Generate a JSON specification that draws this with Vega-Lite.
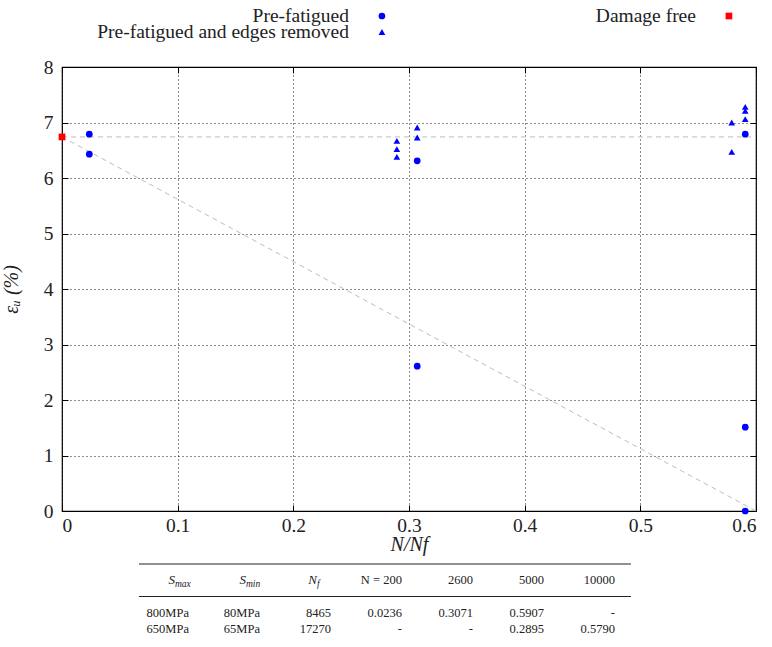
{
  "$schema": "https://vega.github.io/schema/vega-lite/v6.json",
  "background": "white",
  "padding": {"left": 0, "top": 6, "right": 5, "bottom": 0},
  "spacing": 35,
  "bounds": "flush",
  "config": {
    "font": "'Liberation Serif', 'Times New Roman', 'DejaVu Serif', serif",
    "view": {"stroke": null},
    "text": {"font": "'Liberation Serif', 'Times New Roman', 'DejaVu Serif', serif"},
    "axis": {"labelFont": "'Liberation Serif', 'Times New Roman', 'DejaVu Serif', serif", "titleFont": "'Liberation Serif', 'Times New Roman', 'DejaVu Serif', serif", "labelColor": "#222", "titleColor": "#222", "titleFontWeight": "normal", "labelFontSize": 19.5, "titleFontSize": 20}
  },
  "datasets": {
    "legend": [
      {"label": "Pre-fatigued", "series": "Pre-fatigued", "col": "left", "row": "r1"},
      {"label": "Pre-fatigued and edges removed", "series": "Pre-fatigued and edges removed", "col": "left", "row": "r2"},
      {"label": "Damage free", "series": "Damage free", "col": "right", "row": "r1"}
    ],
    "lines": [
      {"line": "h", "x": 0, "y": 6.74},
      {"line": "h", "x": 0.6, "y": 6.74},
      {"line": "d", "x": 0, "y": 6.74},
      {"line": "d", "x": 0.6, "y": 0}
    ],
    "points": [
      {"series": "Pre-fatigued", "x": 0.0236, "y": 6.79},
      {"series": "Pre-fatigued", "x": 0.0236, "y": 6.43},
      {"series": "Pre-fatigued", "x": 0.3071, "y": 6.31},
      {"series": "Pre-fatigued", "x": 0.3071, "y": 2.61},
      {"series": "Pre-fatigued", "x": 0.5907, "y": 6.79},
      {"series": "Pre-fatigued", "x": 0.5907, "y": 1.51},
      {"series": "Pre-fatigued", "x": 0.5907, "y": 0.0},
      {"series": "Pre-fatigued and edges removed", "x": 0.2895, "y": 6.67},
      {"series": "Pre-fatigued and edges removed", "x": 0.2895, "y": 6.52},
      {"series": "Pre-fatigued and edges removed", "x": 0.2895, "y": 6.38},
      {"series": "Pre-fatigued and edges removed", "x": 0.3071, "y": 6.91},
      {"series": "Pre-fatigued and edges removed", "x": 0.3071, "y": 6.73},
      {"series": "Pre-fatigued and edges removed", "x": 0.579, "y": 7.0},
      {"series": "Pre-fatigued and edges removed", "x": 0.579, "y": 6.47},
      {"series": "Pre-fatigued and edges removed", "x": 0.5907, "y": 7.28},
      {"series": "Pre-fatigued and edges removed", "x": 0.5907, "y": 7.21},
      {"series": "Pre-fatigued and edges removed", "x": 0.5907, "y": 7.06},
      {"series": "Damage free", "x": 0, "y": 6.74}
    ],
    "rules": [
      {"row": "top"},
      {"row": "mid"}
    ],
    "table": [
      {"col": "Smax", "row": "header", "text": "S", "sub": "max"},
      {"col": "Smin", "row": "header", "text": "S", "sub": "min"},
      {"col": "Nf", "row": "header", "text": "N", "sub": "f"},
      {"col": "N200", "row": "header", "text": "N = 200", "sub": ""},
      {"col": "N2600", "row": "header", "text": "2600", "sub": ""},
      {"col": "N5000", "row": "header", "text": "5000", "sub": ""},
      {"col": "N10000", "row": "header", "text": "10000", "sub": ""},
      {"col": "Smax", "row": "r1", "text": "800MPa", "sub": ""},
      {"col": "Smin", "row": "r1", "text": "80MPa", "sub": ""},
      {"col": "Nf", "row": "r1", "text": "8465", "sub": ""},
      {"col": "N200", "row": "r1", "text": "0.0236", "sub": ""},
      {"col": "N2600", "row": "r1", "text": "0.3071", "sub": ""},
      {"col": "N5000", "row": "r1", "text": "0.5907", "sub": ""},
      {"col": "N10000", "row": "r1", "text": "-", "sub": ""},
      {"col": "Smax", "row": "r2", "text": "650MPa", "sub": ""},
      {"col": "Smin", "row": "r2", "text": "65MPa", "sub": ""},
      {"col": "Nf", "row": "r2", "text": "17270", "sub": ""},
      {"col": "N200", "row": "r2", "text": "-", "sub": ""},
      {"col": "N2600", "row": "r2", "text": "-", "sub": ""},
      {"col": "N5000", "row": "r2", "text": "0.2895", "sub": ""},
      {"col": "N10000", "row": "r2", "text": "0.5790", "sub": ""}
    ]
  },
  "vconcat": [
    {
      "width": 694,
      "height": 16,
      "data": {"name": "legend"},
      "encoding": {
        "x": {"field": "col", "type": "nominal", "scale": {"type": "point", "domain": ["left", "right"], "padding": 0.5, "align": 0.922}, "axis": null},
        "y": {"field": "row", "type": "nominal", "scale": {"type": "point", "domain": ["r1", "r2"], "padding": 0}, "axis": null}
      },
      "layer": [
        {
          "mark": {"type": "text", "align": "right", "baseline": "middle", "dx": -33, "fontSize": 19.5, "color": "#222"},
          "encoding": {"text": {"field": "label"}}
        },
        {
          "mark": {"type": "point", "filled": true, "size": 45, "opacity": 1},
          "encoding": {
            "shape": {"field": "series", "type": "nominal", "scale": {"domain": ["Pre-fatigued", "Pre-fatigued and edges removed", "Damage free"], "range": ["circle", "triangle-up", "square"]}, "legend": null},
            "color": {"field": "series", "type": "nominal", "scale": {"domain": ["Pre-fatigued", "Pre-fatigued and edges removed", "Damage free"], "range": ["#0000ff", "#0000ff", "#ff0000"]}, "legend": null}
          }
        }
      ]
    },
    {
      "width": 694,
      "height": 444,
      "view": {"stroke": "#000", "strokeWidth": 1.2},
      "layer": [
        {
          "data": {"name": "lines"},
          "mark": {"type": "line", "color": "#bdbdbd", "strokeDash": [5, 4], "strokeWidth": 1},
          "encoding": {
            "x": {"field": "x", "type": "quantitative", "scale": {"domain": [0, 0.6], "nice": false, "zero": false},
              "axis": {"orient": "bottom", "values": [0, 0.1, 0.2, 0.3, 0.4, 0.5, 0.6], "format": "~g", "title": "N/Nf", "titleFontStyle": "italic", "grid": true, "gridColor": "#000", "gridDash": [1, 3], "gridOpacity": 0.9, "domain": false, "ticks": true, "tickSize": -6, "tickColor": "#000", "labelPadding": 11, "titlePadding": 0}},
            "y": {"field": "y", "type": "quantitative", "scale": {"domain": [0, 8], "nice": false},
              "axis": {"orient": "left", "values": [0, 1, 2, 3, 4, 5, 6, 7, 8], "format": "d", "title": "εᵤ (%)", "titleFontStyle": "italic", "grid": true, "gridColor": "#000", "gridDash": [1, 3], "gridOpacity": 0.9, "domain": false, "ticks": true, "tickSize": -6, "tickColor": "#000", "labelPadding": 15, "titlePadding": 22}},
            "detail": {"field": "line"}
          }
        },
        {
          "data": {"name": "points"},
          "mark": {"type": "point", "filled": true, "size": 45, "opacity": 1},
          "encoding": {
            "x": {"field": "x", "type": "quantitative", "scale": {"domain": [0, 0.6], "nice": false, "zero": false},
              "axis": {"orient": "top", "values": [0, 0.1, 0.2, 0.3, 0.4, 0.5, 0.6], "labels": false, "title": null, "grid": false, "domain": false, "tickSize": -6, "tickColor": "#000"}},
            "y": {"field": "y", "type": "quantitative", "scale": {"domain": [0, 8], "nice": false},
              "axis": {"orient": "right", "values": [0, 1, 2, 3, 4, 5, 6, 7, 8], "labels": false, "title": null, "grid": false, "domain": false, "tickSize": -6, "tickColor": "#000"}},
            "shape": {"field": "series", "type": "nominal", "scale": {"domain": ["Pre-fatigued", "Pre-fatigued and edges removed", "Damage free"], "range": ["circle", "triangle-up", "square"]}, "legend": null},
            "color": {"field": "series", "type": "nominal", "scale": {"domain": ["Pre-fatigued", "Pre-fatigued and edges removed", "Damage free"], "range": ["#0000ff", "#0000ff", "#ff0000"]}, "legend": null}
          }
        }
      ],
      "resolve": {"axis": {"x": "independent", "y": "independent"}}
    },
    {
      "width": 568,
      "height": 83,
      "encoding": {
        "x": {"field": "col", "type": "nominal", "scale": {"type": "point", "domain": ["Smax", "Smin", "Nf", "N200", "N2600", "N5000", "N10000"], "padding": 1, "align": 0.894}, "axis": null},
        "y": {"field": "row", "type": "nominal", "scale": {"type": "point", "domain": ["top", "header", "mid", "r1", "r2"], "padding": 0.554, "align": 1}, "axis": null}
      },
      "layer": [
        {
          "data": {"name": "rules"},
          "mark": {"type": "rule", "color": "#222", "strokeWidth": 1.2, "xOffset": -50, "x2Offset": 16},
          "encoding": {"x": {"datum": "Smax"}, "x2": {"datum": "N10000"}}
        },
        {
          "data": {"name": "table"},
          "transform": [{"filter": "datum.sub == ''"}],
          "mark": {"type": "text", "align": "right", "baseline": "middle", "fontSize": 12.5, "color": "#222"},
          "encoding": {"text": {"field": "text"}}
        },
        {
          "data": {"name": "table"},
          "transform": [{"filter": "datum.sub != ''"}],
          "mark": {"type": "text", "align": "right", "baseline": "middle", "dx": -14, "fontSize": 13, "fontStyle": "italic", "color": "#222"},
          "encoding": {"text": {"field": "text"}}
        },
        {
          "data": {"name": "table"},
          "transform": [{"filter": "datum.sub != ''"}],
          "mark": {"type": "text", "align": "left", "baseline": "middle", "dx": -14, "dy": 4, "fontSize": 9.5, "fontStyle": "italic", "color": "#222"},
          "encoding": {"text": {"field": "sub"}}
        }
      ]
    }
  ]
}
